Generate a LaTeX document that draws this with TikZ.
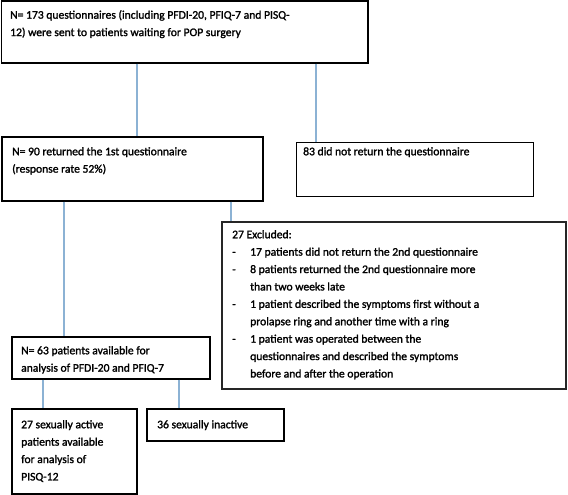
\documentclass[tikz,border=0pt]{standalone}
\usepackage{fontspec}
\setmainfont{Carlito}
\newfontfamily\heavyfont{Carlito}[FakeBold=1.6]
\usetikzlibrary{fit}
\definecolor{connblue}{RGB}{140,178,212}
\tikzset{
  box/.style={draw=black, line width=1.2pt, inner sep=0pt, fill=none},
  exbox/.style={draw=black!85, line width=1.6pt, inner sep=0pt},
  conn/.style={draw=connblue, line width=1.1pt},
  txt/.style={anchor=north west, inner sep=0pt, align=left, text=black, font=\heavyfont\fontsize{11.6}{17.4}\selectfont},
}
\begin{document}
\begin{tikzpicture}[x=1pt,y=-1pt]
\useasboundingbox (0,0) rectangle (568,495);
% boxes
\node[box, fit={(1.5,1)(368,63)}] (b1) {};
\node[box, fit={(2,137)(263,201)}] (b2) {};
\node[box, line width=1pt, fit={(296,142)(533,196)}] (b83) {};
\node[exbox, fit={(222,222)(566,389)}] (bex) {};
\node[box, fit={(12,337)(210,379)}] (b63) {};
\node[box, fit={(12,409)(137,494)}] (b27) {};
\node[box, fit={(147,409)(284,441)}] (b36) {};
% texts
\node[txt] (t1) at (10,10) {N= 173 questionnaires (including PFDI-20, PFIQ-7 and PISQ-\\12) were sent to patients waiting for POP surgery};
\node[txt] (t2) at (12,147) {N= 90 returned the 1st questionnaire\\(response rate 52\%)};
\node[txt] (t83) at (303,147) {83 did not return the questionnaire};
\node[txt] (tex) at (232,230) {27 Excluded:\\
\makebox[18pt][l]{-}17 patients did not return the 2nd questionnaire\\
\makebox[18pt][l]{-}8 patients returned the 2nd questionnaire more\\
\hspace*{18pt}than two weeks late\\
\makebox[18pt][l]{-}1 patient described the symptoms first without a\\
\hspace*{18pt}prolapse ring and another time with a ring\\
\makebox[18pt][l]{-}1 patient was operated between the\\
\hspace*{18pt}questionnaires and described the symptoms\\
\hspace*{18pt}before and after the operation};
\node[txt] (t63) at (21,346) {N= 63 patients available for\\analysis of PFDI-20 and PFIQ-7};
\node[txt] (t27) at (21,420) {27 sexually active\\patients available\\for analysis of\\PISQ-12};
\node[txt] (t36) at (157,420) {36 sexually inactive};
% connector x positions
\coordinate (xa) at (137,0);
\coordinate (xb) at (316,0);
\coordinate (xc) at (64,0);
\coordinate (xd) at (231,0);
\coordinate (xe) at (43,0);
\coordinate (xf) at (179,0);
\draw[conn] (b1.south -| xa) -- (b2.north -| xa);
\draw[conn] (b1.south -| xb) -- (b83.north -| xb);
\draw[conn] (b2.south -| xc) -- (b63.north -| xc);
\draw[conn] (b2.south -| xd) -- (bex.north -| xd);
\draw[conn] (b63.south -| xe) -- (b27.north -| xe);
\draw[conn] (b63.south -| xf) -- (b36.north -| xf);
\end{tikzpicture}
\end{document}
